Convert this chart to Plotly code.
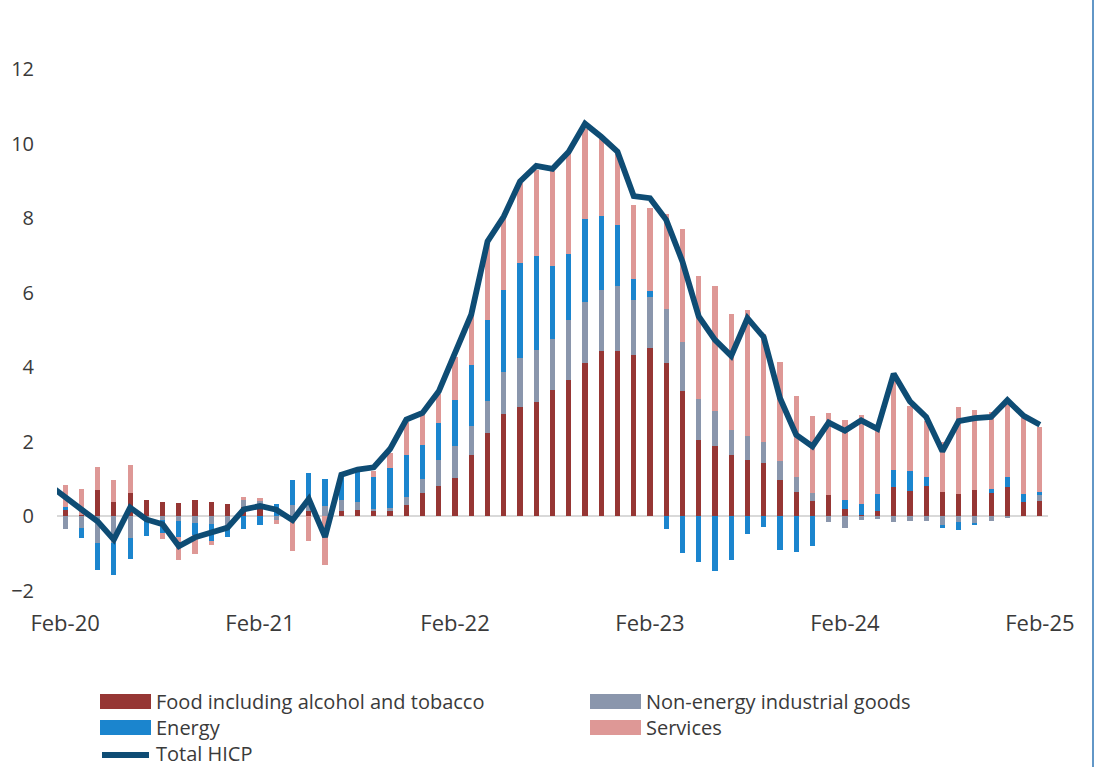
import plotly.graph_objects as go

# Month labels for the category axis (Feb-20 .. Feb-25)
months = [
    "Feb-20", "Mar-20", "Apr-20", "May-20", "Jun-20", "Jul-20", "Aug-20", "Sep-20", "Oct-20", "Nov-20", "Dec-20", "Jan-21",
    "Feb-21", "Mar-21", "Apr-21", "May-21", "Jun-21", "Jul-21", "Aug-21", "Sep-21", "Oct-21", "Nov-21", "Dec-21", "Jan-22",
    "Feb-22", "Mar-22", "Apr-22", "May-22", "Jun-22", "Jul-22", "Aug-22", "Sep-22", "Oct-22", "Nov-22", "Dec-22", "Jan-23",
    "Feb-23", "Mar-23", "Apr-23", "May-23", "Jun-23", "Jul-23", "Aug-23", "Sep-23", "Oct-23", "Nov-23", "Dec-23", "Jan-24",
    "Feb-24", "Mar-24", "Apr-24", "May-24", "Jun-24", "Jul-24", "Aug-24", "Sep-24", "Oct-24", "Nov-24", "Dec-24", "Jan-25",
    "Feb-25",
]
tick_labels = ["Feb-20", "Feb-21", "Feb-22", "Feb-23", "Feb-24", "Feb-25"]
y_ticks = [-2, 0, 2, 4, 6, 8, 10, 12]

# Contributions to annual inflation, percentage points
food = [
    0.18, 0.05, 0.70, 0.38, 0.62, 0.45, 0.40, 0.36, 0.45, 0.38, 0.33, 0.25,
    0.25, 0.00, 0.00, 0.14, 0.00, 0.16, 0.17, 0.16, 0.14, 0.31, 0.62, 0.82,
    1.04, 1.64, 2.23, 2.75, 2.95, 3.08, 3.40, 3.65, 4.11, 4.44, 4.45, 4.32,
    4.53, 4.13, 3.38, 2.06, 1.90, 1.64, 1.52, 1.43, 0.98, 0.67, 0.42, 0.58,
    0.20, 0.04, 0.15, 0.78, 0.69, 0.83, 0.65, 0.61, 0.72, 0.64, 0.78, 0.38,
    0.42,
]
neig = [
    -0.33, -0.30, -0.71, -0.70, -0.58, -0.10, -0.09, -0.12, -0.18, -0.20, -0.25, 0.19,
    0.17, -0.09, 0.31, 0.22, 0.27, 0.29, 0.22, 0.04, 0.08, 0.22, 0.38, 0.70,
    0.86, 0.80, 0.87, 1.12, 1.30, 1.40, 1.37, 1.63, 1.65, 1.64, 1.73, 1.49,
    1.36, 1.43, 1.29, 1.10, 0.92, 0.69, 0.63, 0.58, 0.52, 0.38, 0.21, -0.15,
    -0.30, -0.09, -0.06, -0.15, -0.12, -0.13, -0.22, -0.16, -0.18, -0.12, -0.03, 0.00,
    0.16,
]
energy = [
    0.07, -0.28, -0.73, -0.88, -0.55, -0.42, -0.36, -0.42, -0.31, -0.45, -0.30, -0.33,
    -0.22, 0.34, 0.66, 0.82, 0.73, 0.66, 0.85, 0.87, 1.07, 1.12, 0.92, 0.98,
    1.23, 1.62, 2.17, 2.21, 2.56, 2.51, 1.94, 1.77, 2.21, 1.98, 1.64, 0.57,
    0.16, -0.33, -0.98, -1.21, -1.47, -1.18, -0.46, -0.27, -0.91, -0.94, -0.80, 0.00,
    0.24, 0.30, 0.46, 0.46, 0.54, 0.24, -0.09, -0.21, -0.03, 0.10, 0.27, 0.21,
    0.09,
]
services = [
    0.60, 0.70, 0.62, 0.59, 0.75, 0.00, -0.16, -0.63, -0.51, -0.12, 0.00, 0.08,
    0.07, -0.11, -0.92, -0.67, -1.31, 0.00, 0.00, 0.16, 0.42, 0.89, 0.80, 0.80,
    1.16, 1.36, 2.08, 1.92, 2.14, 2.30, 2.55, 2.70, 2.44, 2.08, 1.91, 1.99,
    2.24, 2.57, 3.04, 3.30, 3.37, 3.10, 3.38, 2.90, 2.64, 2.17, 2.07, 2.19,
    2.16, 2.37, 1.70, 2.55, 1.74, 1.50, 1.36, 2.34, 2.14, 2.07, 2.04, 2.06,
    1.74,
]
# Headline rate; the series begins one month earlier (Jan-20)
hicp_months = ["Jan-20"] + months
hicp_total = [
    0.85,
    0.54, 0.19, -0.13, -0.62, 0.24, -0.08, -0.21, -0.80, -0.56, -0.42, -0.30, 0.19,
    0.28, 0.18, -0.10, 0.47, -0.55, 1.12, 1.26, 1.32, 1.81, 2.60, 2.78, 3.36,
    4.39, 5.42, 7.38, 8.05, 8.99, 9.41, 9.33, 9.79, 10.54, 10.19, 9.79, 8.60,
    8.54, 7.96, 6.84, 5.37, 4.74, 4.31, 5.32, 4.81, 3.18, 2.19, 1.88, 2.52,
    2.30, 2.58, 2.35, 3.83, 3.09, 2.67, 1.75, 2.56, 2.64, 2.67, 3.12, 2.70,
    2.46,
]

series_names = [
    "Food including alcohol and tobacco",
    "Non-energy industrial goods",
    "Energy",
    "Services",
]
series_values = [food, neig, energy, services]
series_colors = ["#963634", "#8A96AC", "#1B85CE", "#DE9896"]
line_color = "#0E4C74"
text_color = "#3A3A3A"
font_family = "Open Sans, Liberation Sans, sans-serif"

W, H = 1100, 767
PLOT_L, PLOT_R, PLOT_T, PLOT_B = 57, 1048, 0, 591

x_pos = list(range(len(months)))
hicp_pos = [i - 1 for i in range(len(hicp_months))]

fig = go.Figure()
for name, vals, col in zip(series_names, series_values, series_colors):
    fig.add_trace(go.Bar(
        x=x_pos, y=vals, name=name, width=0.32,
        marker=dict(color=col, line=dict(width=0)),
        showlegend=False,
    ))
fig.add_trace(go.Scatter(
    x=hicp_pos, y=hicp_total, name="Total HICP", mode="lines",
    line=dict(color=line_color, width=5.8),
    showlegend=False,
))


def px_to_paper(px, py):
    return ((px - PLOT_L) / (PLOT_R - PLOT_L), (PLOT_B - py) / (PLOT_B - PLOT_T))


# Legend laid out in two columns below the axis
legend_rows = [
    [(series_names[0], "bar", series_colors[0]), (series_names[1], "bar", series_colors[1])],
    [(series_names[2], "bar", series_colors[2]), (series_names[3], "bar", series_colors[3])],
    [("Total HICP", "line", line_color)],
]
row_centers = [701, 727, 753]
col_lefts = [100, 590]
shapes = []
annotations = []
for row, cy in zip(legend_rows, row_centers):
    for (label, kind, col), lx in zip(row, col_lefts):
        if kind == "bar":
            x0, y0 = px_to_paper(lx, cy - 7)
            x1, y1 = px_to_paper(lx + 51, cy + 8)
            shapes.append(dict(type="rect", xref="paper", yref="paper",
                               x0=x0, x1=x1, y0=y1, y1=y0,
                               fillcolor=col, line=dict(width=0)))
        else:
            x0, yy = px_to_paper(lx + 2, cy + 2)
            x1, _ = px_to_paper(lx + 49, cy + 2)
            shapes.append(dict(type="line", xref="paper", yref="paper",
                               x0=x0, x1=x1, y0=yy, y1=yy,
                               line=dict(color=col, width=5.8)))
        tx, ty = px_to_paper(lx + 54, cy)
        annotations.append(dict(text=label, xref="paper", yref="paper",
                                x=tx, y=ty, xanchor="left", yanchor="middle",
                                showarrow=False,
                                font=dict(family=font_family, size=20, color=text_color)))

# Thin frame edge on the right-hand side
bx, _ = px_to_paper(1093, 0)
_, by_top = px_to_paper(0, 0)
_, by_bot = px_to_paper(0, H)
shapes.append(dict(type="line", xref="paper", yref="paper",
                   x0=bx, x1=bx, y0=by_bot, y1=by_top,
                   line=dict(color="#2E74B5", width=1.5)))

fig.update_layout(
    width=W, height=H,
    margin=dict(l=PLOT_L, r=W - PLOT_R, t=PLOT_T, b=H - PLOT_B),
    barmode="relative",
    bargap=0,
    plot_bgcolor="white",
    paper_bgcolor="white",
    font=dict(family=font_family, size=20, color=text_color),
    shapes=shapes,
    annotations=annotations,
    showlegend=False,
)
fig.update_xaxes(
    range=[-0.5, len(months) - 0.5],
    tickvals=[months.index(t) for t in tick_labels],
    ticktext=tick_labels,
    showgrid=False, zeroline=False, showline=False, ticks="",
    ticklabelstandoff=17,
    tickfont=dict(size=22, color=text_color),
)
fig.update_yaxes(
    range=[-2, 13.86],
    tickvals=y_ticks,
    showgrid=False,
    zeroline=True, zerolinecolor="#D9D9D9", zerolinewidth=2,
    showline=False, ticks="",
    ticklabelstandoff=22,
    tickfont=dict(size=20, color=text_color),
)

fig.write_html("out.html")
